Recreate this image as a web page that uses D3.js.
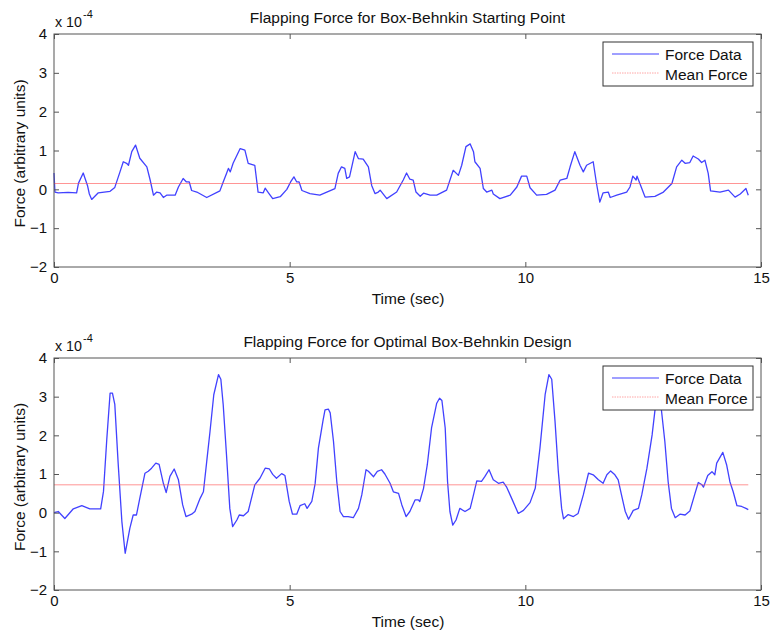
<!DOCTYPE html>
<html><head><meta charset="utf-8">
<script src="https://cdn.jsdelivr.net/npm/d3@7"></script>
<style>body{margin:0;background:#fff}svg{display:block;font-family:"Liberation Sans",Arial,sans-serif}</style>
</head><body><svg id="c" width="771" height="637"></svg>
<script>
// values in units of 1e-4
const xTicks = [0, 5, 10, 15];
const yTicks = [-2, -1, 0, 1, 2, 3, 4];
const titles = ["Flapping Force for Box-Behnkin Starting Point", "Flapping Force for Optimal Box-Behnkin Design"];
const legendLabels = ["Force Data", "Mean Force"];

const topT = [0.00,0.02,0.09,0.30,0.48,0.52,0.62,0.71,0.75,0.80,0.94,1.19,1.29,1.40,1.47,1.54,1.58,1.65,1.73,1.82,1.97,2.04,2.11,2.18,2.25,2.32,2.39,2.57,2.64,2.74,2.81,2.87,2.92,3.03,3.24,3.52,3.59,3.66,3.70,3.74,3.80,3.95,4.05,4.12,4.26,4.33,4.44,4.48,4.55,4.64,4.80,4.94,5.02,5.09,5.15,5.20,5.26,5.43,5.64,5.96,6.03,6.10,6.17,6.21,6.27,6.39,6.46,6.56,6.67,6.74,6.81,6.88,6.92,7.06,7.27,7.41,7.48,7.55,7.62,7.68,7.77,7.84,7.98,8.12,8.33,8.47,8.58,8.65,8.74,8.83,8.90,8.93,9.04,9.11,9.18,9.29,9.32,9.46,9.68,9.82,9.92,10.03,10.10,10.24,10.45,10.63,10.74,10.88,10.95,11.05,11.16,11.23,11.30,11.44,11.51,11.58,11.65,11.76,11.80,11.94,12.15,12.22,12.28,12.35,12.37,12.43,12.54,12.75,12.93,13.11,13.21,13.32,13.39,13.49,13.56,13.67,13.74,13.81,13.88,13.93,14.13,14.31,14.45,14.56,14.68,14.73];
const topV = [0.42,-0.07,-0.09,-0.08,-0.09,0.16,0.42,0.10,-0.12,-0.26,-0.09,-0.05,0.05,0.45,0.71,0.67,0.62,0.97,1.14,0.80,0.58,0.24,-0.15,-0.07,-0.09,-0.21,-0.15,-0.15,0.06,0.28,0.19,0.19,-0.03,-0.07,-0.21,-0.04,0.19,0.41,0.54,0.45,0.67,1.05,1.01,0.67,0.62,-0.07,-0.09,0.03,-0.09,-0.24,-0.19,0.00,0.19,0.32,0.19,0.19,-0.03,-0.11,-0.15,0.02,0.41,0.58,0.54,0.28,0.32,0.97,0.79,0.78,0.58,0.10,-0.11,-0.07,-0.02,-0.24,-0.07,0.24,0.42,0.26,0.24,-0.07,-0.18,-0.10,-0.15,-0.15,-0.02,0.49,0.36,0.62,1.10,1.17,0.97,0.71,0.54,0.02,-0.07,-0.02,-0.12,-0.24,-0.15,0.06,0.34,0.34,0.04,-0.15,-0.13,-0.02,0.24,0.28,0.58,0.97,0.62,0.45,0.62,0.71,0.15,-0.33,-0.09,-0.07,-0.21,-0.15,-0.07,0.06,0.34,0.24,0.34,0.15,-0.20,-0.18,-0.07,0.15,0.58,0.75,0.67,0.69,0.86,0.78,0.69,0.75,0.41,-0.04,-0.07,-0.02,-0.20,-0.12,0.02,-0.15];
const topMean = 0.15;

const botT = [0.00,0.09,0.23,0.41,0.59,0.76,0.99,1.05,1.12,1.19,1.24,1.29,1.36,1.44,1.51,1.61,1.68,1.75,1.82,1.93,2.00,2.07,2.16,2.23,2.32,2.38,2.46,2.55,2.64,2.73,2.80,2.92,2.99,3.10,3.17,3.24,3.31,3.39,3.49,3.54,3.59,3.66,3.73,3.79,3.88,3.93,4.02,4.12,4.26,4.37,4.48,4.57,4.64,4.72,4.83,4.90,4.99,5.06,5.15,5.22,5.32,5.37,5.47,5.54,5.61,5.71,5.75,5.82,5.86,5.93,6.00,6.07,6.14,6.24,6.35,6.46,6.53,6.62,6.67,6.78,6.86,6.95,7.02,7.13,7.20,7.31,7.38,7.47,7.55,7.66,7.73,7.76,7.84,7.92,8.01,8.12,8.18,8.23,8.30,8.35,8.40,8.46,8.53,8.61,8.72,8.83,8.90,8.97,9.07,9.14,9.23,9.32,9.43,9.53,9.60,9.71,9.85,9.96,10.10,10.21,10.31,10.42,10.50,10.56,10.63,10.70,10.77,10.81,10.91,11.02,11.12,11.23,11.34,11.44,11.55,11.65,11.73,11.81,11.90,11.97,12.04,12.12,12.19,12.29,12.40,12.47,12.58,12.69,12.76,12.82,12.87,12.96,13.03,13.10,13.18,13.28,13.39,13.49,13.60,13.67,13.74,13.78,13.87,13.96,14.02,14.06,14.19,14.27,14.34,14.41,14.49,14.59,14.68,14.73];
const botV = [0.00,0.03,-0.15,0.10,0.18,0.10,0.10,0.55,1.90,3.09,3.09,2.80,1.30,-0.23,-1.05,-0.40,-0.06,-0.06,0.37,1.02,1.07,1.15,1.28,1.25,0.76,0.52,0.94,1.13,0.85,0.20,-0.10,-0.04,0.03,0.37,0.54,1.32,2.10,3.05,3.57,3.45,2.79,1.49,0.11,-0.36,-0.19,-0.06,-0.08,0.03,0.72,0.89,1.15,1.13,0.99,0.89,1.01,0.96,0.29,-0.04,-0.04,0.18,0.23,0.11,0.29,0.75,1.67,2.40,2.66,2.68,2.58,1.84,0.80,0.03,-0.10,-0.10,-0.13,0.11,0.46,1.11,1.07,0.93,1.07,1.11,1.00,0.76,0.54,0.50,0.20,-0.10,0.03,0.33,0.33,0.29,0.63,1.24,2.19,2.83,2.96,2.90,2.19,0.80,0.03,-0.32,-0.19,0.11,0.03,0.11,0.46,0.82,0.81,0.93,1.11,0.85,0.76,0.79,0.67,0.37,-0.02,0.06,0.26,0.63,1.67,3.05,3.57,3.45,2.36,1.06,0.11,-0.16,-0.05,-0.10,-0.02,0.46,1.02,0.98,0.85,0.76,0.98,1.08,0.98,0.85,0.46,0.03,-0.17,0.06,0.11,0.46,1.15,2.01,2.75,3.05,2.85,1.84,0.80,0.11,-0.13,-0.04,-0.06,0.04,0.50,0.78,0.73,0.66,0.96,1.06,0.98,1.28,1.56,1.24,0.80,0.54,0.18,0.16,0.11,0.08];
const botMean = 0.72;

const svg = d3.select("#c");
const x = d3.scaleLinear().domain([0, 15]).range([54, 761]);
const panels = [
  {T: topT, V: topV, mean: topMean, top: 34, bottom: 267, title: titles[0]},
  {T: botT, V: botV, mean: botMean, top: 358, bottom: 590, title: titles[1]}
];
const axisCol = "#555";
const FS = 15.5;

panels.forEach(p => {
  const y = d3.scaleLinear().domain([-2, 4]).range([p.bottom, p.top]);
  const g = svg.append("g");

  const data = p.T.map((t, i) => [t, p.V[i]]);
  const line = d3.line().x(d => x(d[0])).y(d => y(d[1]));
  g.append("path").datum(data).attr("d", line)
    .attr("fill", "none").attr("stroke", "#2020ff").attr("stroke-width", 1.3)
    .attr("stroke-linejoin", "round").attr("opacity", 0.85);
  g.append("line").attr("x1", x(0)).attr("x2", x(p.T[p.T.length - 1]))
    .attr("y1", y(p.mean)).attr("y2", y(p.mean))
    .attr("stroke", "#ff5050").attr("stroke-width", 1).attr("opacity", 0.6);

  const styleAxis = (a) => {
    a.select(".domain").remove();
    a.selectAll(".tick line").attr("stroke", axisCol);
    a.selectAll("text").attr("font-size", 15).attr("fill", "#111")
      .attr("font-family", "'Liberation Sans', Arial, sans-serif");
  };
  styleAxis(g.append("g").attr("transform", `translate(0,${p.bottom})`)
    .call(d3.axisBottom(x).tickValues(xTicks).tickSize(-5).tickPadding(5).tickFormat(d3.format("d"))));
  styleAxis(g.append("g").attr("transform", `translate(0,${p.top})`)
    .call(d3.axisTop(x).tickValues(xTicks).tickSize(-5).tickFormat("")));
  styleAxis(g.append("g").attr("transform", `translate(${x(0)},0)`)
    .call(d3.axisLeft(y).tickValues(yTicks).tickSize(-5).tickPadding(7).tickFormat(d3.format("d"))));
  styleAxis(g.append("g").attr("transform", `translate(${x(15)},0)`)
    .call(d3.axisRight(y).tickValues(yTicks).tickSize(-5).tickFormat("")));

  g.append("rect").attr("x", x(0)).attr("y", p.top).attr("width", x(15) - x(0))
    .attr("height", p.bottom - p.top).attr("fill", "none").attr("stroke", axisCol).attr("stroke-width", 1);

  // multiplier
  const m = g.append("text").attr("x", 55).attr("y", p.top - 7.5).attr("font-size", 14.3).attr("fill", "#111");
  m.append("tspan").text("x 10");
  m.append("tspan").attr("dy", -9).attr("dx", 1).attr("font-size", 11).text("-4");

  g.append("text").attr("x", 407.5).attr("y", p.top - 11.5).attr("text-anchor", "middle")
    .attr("font-size", FS).attr("fill", "#111").text(p.title);
  g.append("text").attr("x", 408).attr("y", p.bottom + 36.5).attr("text-anchor", "middle")
    .attr("font-size", FS).attr("fill", "#111").text("Time (sec)");
  g.append("text").attr("transform", `translate(25,${(p.top + p.bottom) / 2 + 3}) rotate(-90)`)
    .attr("text-anchor", "middle").attr("font-size", FS).attr("fill", "#111").text("Force (arbitrary units)");

  // legend
  const lg = g.append("g").attr("transform", `translate(603,${p.top + 8})`);
  lg.append("rect").attr("width", 150).attr("height", 44).attr("fill", "#fff")
    .attr("stroke", "#333").attr("stroke-width", 1);
  lg.append("line").attr("x1", 9).attr("x2", 56).attr("y1", 12).attr("y2", 12)
    .attr("stroke", "#2020ff").attr("stroke-width", 1.2).attr("opacity", 0.85);
  lg.append("line").attr("x1", 9).attr("x2", 56).attr("y1", 31).attr("y2", 31)
    .attr("stroke", "#ff5050").attr("stroke-width", 1).attr("opacity", 0.5).attr("stroke-dasharray", "1.5,1");
  legendLabels.forEach((t, i) => {
    lg.append("text").attr("x", 62).attr("y", 18.4 + i * 19.3).attr("font-size", FS)
      .attr("fill", "#111").text(t);
  });
});
</script></body></html>
